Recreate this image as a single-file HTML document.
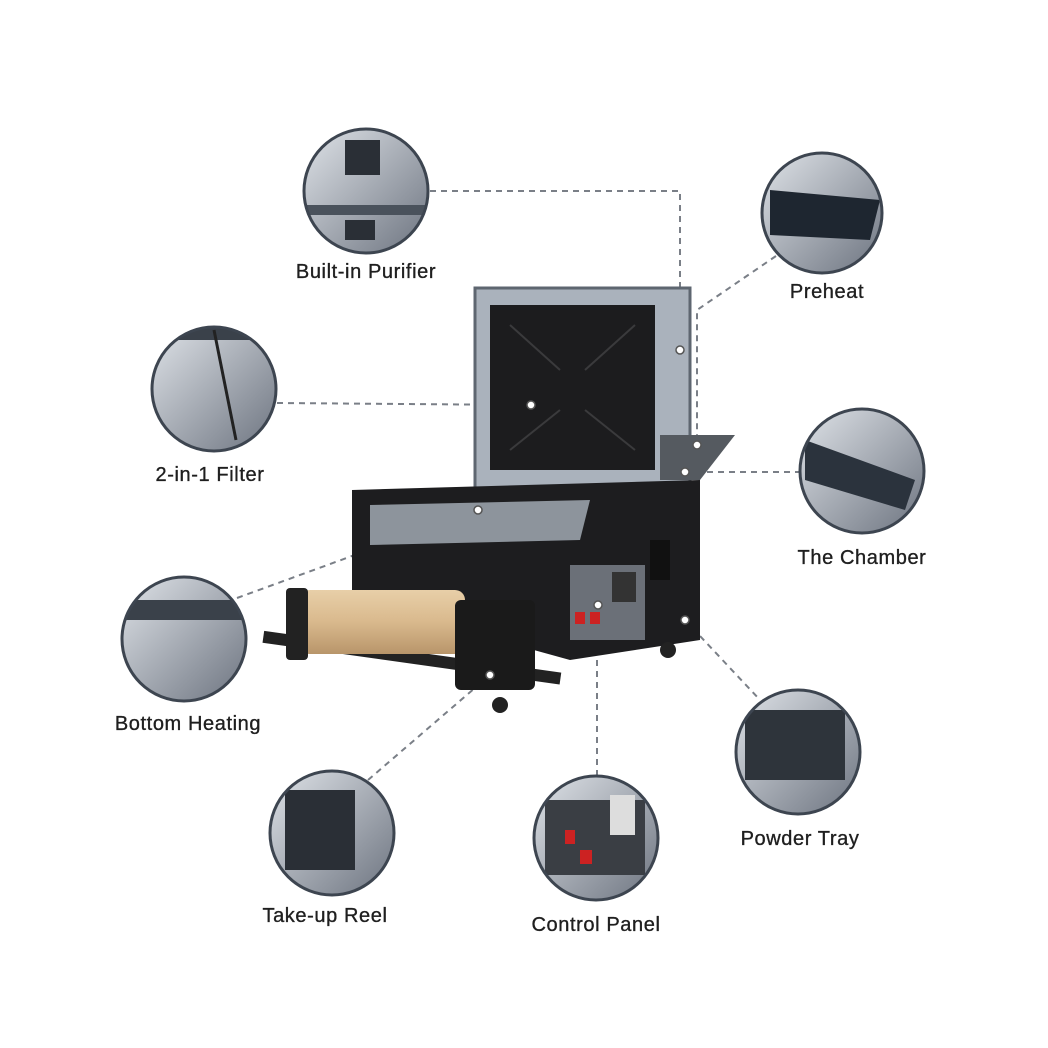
<!DOCTYPE html>
<html><head><meta charset="utf-8"><style>
html,body{margin:0;padding:0;background:#fff;}
svg{display:block}
text{font-family:"Liberation Sans",sans-serif;font-size:20px;fill:#1f1f1f;letter-spacing:0.6px;stroke:#1f1f1f;stroke-width:0.35px}
</style></head><body>
<svg width="1048" height="1048" viewBox="0 0 1048 1048">
<defs>
<linearGradient id="tan" x1="0" y1="0" x2="0" y2="1"><stop offset="0" stop-color="#e8cfa8"/><stop offset="0.5" stop-color="#d9b98d"/><stop offset="1" stop-color="#b8956a"/></linearGradient>
<linearGradient id="cg" x1="0" y1="0" x2="1" y2="1"><stop offset="0" stop-color="#dfe3e8"/><stop offset="1" stop-color="#6d7480"/></linearGradient>
<clipPath id="c1"><circle cx="366" cy="191" r="61"/></clipPath>
<clipPath id="c2"><circle cx="822" cy="213" r="59"/></clipPath>
<clipPath id="c3"><circle cx="214" cy="389" r="61"/></clipPath>
<clipPath id="c4"><circle cx="862" cy="471" r="61"/></clipPath>
<clipPath id="c5"><circle cx="184" cy="639" r="61"/></clipPath>
<clipPath id="c6"><circle cx="798" cy="752" r="61"/></clipPath>
<clipPath id="c7"><circle cx="332" cy="833" r="61"/></clipPath>
<clipPath id="c8"><circle cx="596" cy="838" r="61"/></clipPath>
</defs>
<g stroke="#7a7f87" stroke-width="2" stroke-dasharray="6,5" fill="none">
<polyline points="430,191 680,191 680,350"/>
<polyline points="776,256 697,310 697,445"/>
<line x1="277" y1="403" x2="530" y2="405"/>
<line x1="685" y1="472" x2="800" y2="472"/>
<line x1="237" y1="598" x2="478" y2="510"/>
<line x1="685" y1="620" x2="760" y2="700"/>
<line x1="368" y1="780" x2="490" y2="675"/>
<line x1="597" y1="605" x2="597" y2="775"/>
</g>
<!-- machine -->
<rect x="475" y="288" width="215" height="202" fill="#aab2bc" stroke="#5e6670" stroke-width="3"/>
<rect x="490" y="305" width="165" height="165" fill="#1c1c1e"/>
<g stroke="#3a3a3c" stroke-width="2"><line x1="510" y1="325" x2="560" y2="370"/><line x1="635" y1="325" x2="585" y2="370"/><line x1="510" y1="450" x2="560" y2="410"/><line x1="635" y1="450" x2="585" y2="410"/></g>
<polygon points="660,435 735,435 700,480 660,480" fill="#555a60"/>
<polygon points="352,490 700,480 700,640 570,660 352,600" fill="#1d1d1f"/>
<polygon points="370,505 590,500 580,540 370,545" fill="#8d949c"/>
<rect x="570" y="565" width="75" height="75" fill="#6b7078"/>
<rect x="612" y="572" width="24" height="30" fill="#333"/>
<rect x="575" y="612" width="10" height="12" fill="#c22"/>
<rect x="590" y="612" width="10" height="12" fill="#c22"/>
<rect x="650" y="540" width="20" height="40" fill="#111"/>
<circle cx="668" cy="650" r="8" fill="#222"/>
<rect x="262" y="650" width="300" height="12" fill="#222" transform="rotate(8 400 656)"/>
<rect x="300" y="590" width="165" height="64" rx="10" fill="url(#tan)"/>
<rect x="286" y="588" width="22" height="72" rx="4" fill="#222"/>
<rect x="455" y="600" width="80" height="90" rx="6" fill="#1a1a1a"/>
<circle cx="500" cy="705" r="8" fill="#222"/>
<g fill="#fff" stroke="#555" stroke-width="1.5">
<circle cx="531" cy="405" r="4"/><circle cx="680" cy="350" r="4"/><circle cx="697" cy="445" r="4"/><circle cx="685" cy="472" r="4"/><circle cx="478" cy="510" r="4"/><circle cx="598" cy="605" r="4"/><circle cx="685" cy="620" r="4"/><circle cx="490" cy="675" r="4"/>
</g>
<!-- circles -->
<g fill="url(#cg)">
<circle cx="366" cy="191" r="62"/><circle cx="822" cy="213" r="60"/><circle cx="214" cy="389" r="62"/><circle cx="862" cy="471" r="62"/>
<circle cx="184" cy="639" r="62"/><circle cx="798" cy="752" r="62"/><circle cx="332" cy="833" r="62"/><circle cx="596" cy="838" r="62"/>
</g>
<g clip-path="url(#c1)"><rect x="345" y="140" width="35" height="35" fill="#2a2f36"/><rect x="300" y="205" width="140" height="10" fill="#4a525c"/><rect x="345" y="220" width="30" height="20" fill="#2a2f36"/></g>
<g clip-path="url(#c2)"><polygon points="770,190 880,200 870,240 770,235" fill="#1e2630"/></g>
<g clip-path="url(#c3)"><rect x="150" y="325" width="130" height="15" fill="#3a414a"/><line x1="214" y1="330" x2="236" y2="440" stroke="#222" stroke-width="3"/></g>
<g clip-path="url(#c4)"><polygon points="805,440 915,480 905,510 805,480" fill="#2b333d"/></g>
<g clip-path="url(#c5)"><rect x="120" y="600" width="130" height="20" fill="#3a414a"/></g>
<g clip-path="url(#c6)"><rect x="745" y="710" width="100" height="70" fill="#2e343b"/></g>
<g clip-path="url(#c7)"><rect x="285" y="790" width="70" height="80" fill="#2a2f36"/></g>
<g clip-path="url(#c8)"><rect x="545" y="800" width="100" height="75" fill="#3a3e44"/><rect x="610" y="795" width="25" height="40" fill="#ddd"/><rect x="565" y="830" width="10" height="14" fill="#c22"/><rect x="580" y="850" width="12" height="14" fill="#c22"/></g>
<g fill="none" stroke="#3d4550" stroke-width="3">
<circle cx="366" cy="191" r="62"/><circle cx="822" cy="213" r="60"/><circle cx="214" cy="389" r="62"/><circle cx="862" cy="471" r="62"/>
<circle cx="184" cy="639" r="62"/><circle cx="798" cy="752" r="62"/><circle cx="332" cy="833" r="62"/><circle cx="596" cy="838" r="62"/>
</g>
<!-- labels -->
<g text-anchor="middle">
<text x="366" y="278">Built-in Purifier</text>
<text x="827" y="298">Preheat</text>
<text x="210" y="481">2-in-1 Filter</text>
<text x="862" y="564">The Chamber</text>
<text x="188" y="730">Bottom Heating</text>
<text x="800" y="845">Powder Tray</text>
<text x="325" y="922">Take-up Reel</text>
<text x="596" y="931">Control Panel</text>
</g>
</svg>
</body></html>
